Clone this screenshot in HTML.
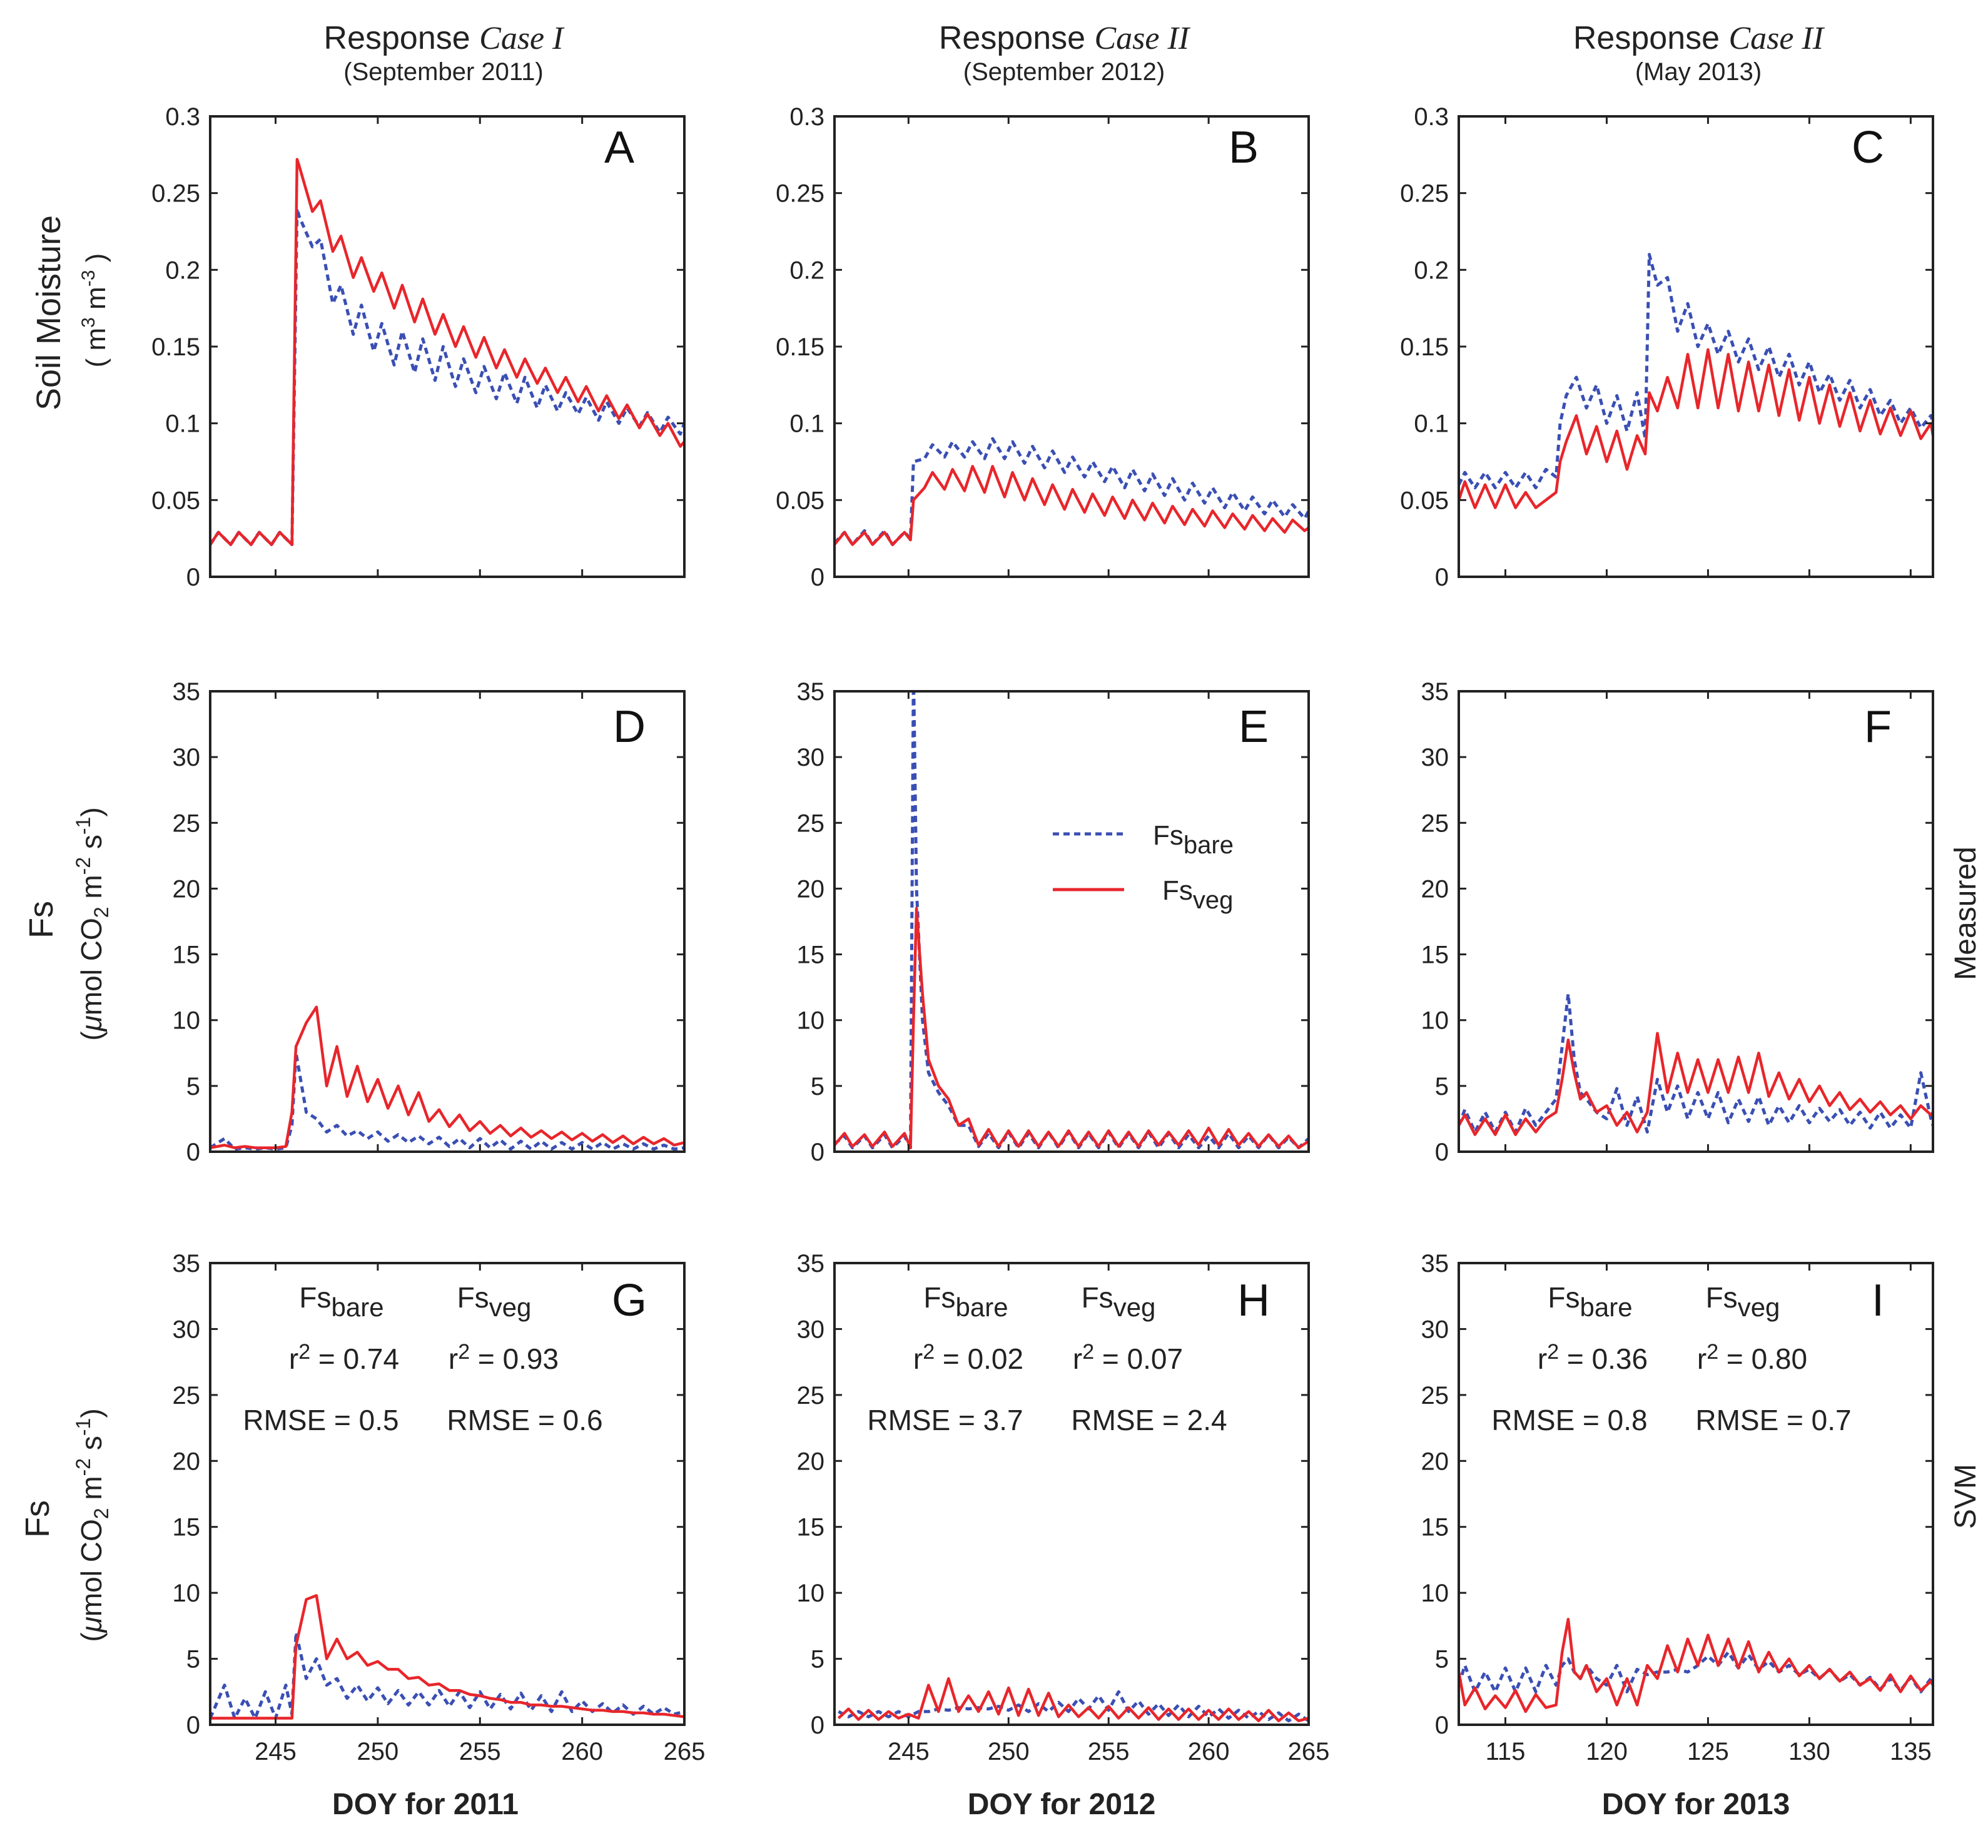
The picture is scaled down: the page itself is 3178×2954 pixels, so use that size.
<!DOCTYPE html>
<html><head><meta charset="utf-8"><style>
html,body{margin:0;padding:0;background:#fff;}
svg{display:block;font-family:"Liberation Sans",sans-serif;}
</style></head><body>
<svg id="fig" width="3178" height="2954" viewBox="0 0 3178 2954" xmlns="http://www.w3.org/2000/svg">
<rect width="3178" height="2954" fill="#fff"/>
<g fill="#222" text-anchor="middle">
<text x="709" y="78" font-size="52">Response <tspan font-family="Liberation Serif" font-style="italic">Case I</tspan></text>
<text x="709" y="128" font-size="40">(September 2011)</text>
<text x="1701" y="78" font-size="52">Response  <tspan font-family="Liberation Serif" font-style="italic">Case II</tspan></text>
<text x="1701" y="128" font-size="40">(September 2012)</text>
<text x="2715" y="78" font-size="52">Response <tspan font-family="Liberation Serif" font-style="italic">Case II</tspan></text>
<text x="2715" y="128" font-size="40">(May 2013)</text>
</g>
<g fill="#222" text-anchor="middle">
<text transform="translate(96,500) rotate(-90)" font-size="54">Soil Moisture</text>
<text transform="translate(168,496) rotate(-90)" font-size="44">( m<tspan dy="-17" font-size="30">3</tspan><tspan dy="17"> m</tspan><tspan dy="-17" font-size="30">-3</tspan><tspan dy="17"> )</tspan></text>
<text transform="translate(84,1470) rotate(-90)" font-size="54">Fs</text>
<text transform="translate(162,1477) rotate(-90)" font-size="46">(<tspan font-style="italic">μ</tspan>mol CO<tspan dy="11" font-size="32">2</tspan><tspan dy="-11"> m</tspan><tspan dy="-18" font-size="32">-2</tspan><tspan dy="18"> s</tspan><tspan dy="-18" font-size="32">-1</tspan><tspan dy="18">)</tspan></text>
<text transform="translate(78,2428) rotate(-90)" font-size="54">Fs</text>
<text transform="translate(162,2438) rotate(-90)" font-size="46">(<tspan font-style="italic">μ</tspan>mol CO<tspan dy="11" font-size="32">2</tspan><tspan dy="-11"> m</tspan><tspan dy="-18" font-size="32">-2</tspan><tspan dy="18"> s</tspan><tspan dy="-18" font-size="32">-1</tspan><tspan dy="18">)</tspan></text>
<text transform="translate(3158,1460) rotate(-90)" font-size="48">Measured</text>
<text transform="translate(3158,2392) rotate(-90)" font-size="48">SVM</text>
</g>
<g fill="#222" text-anchor="middle" font-weight="bold" font-size="48">
<text x="680" y="2900">DOY for 2011</text>
<text x="1697" y="2900">DOY for 2012</text>
<text x="2711" y="2900">DOY for 2013</text>
</g>
<g id="panels"></g>
<g fill="#222">
<line x1="1683" y1="1333" x2="1797" y2="1333" stroke="#3a4fb4" stroke-width="5" stroke-dasharray="10 7"/>
<text x="1843" y="1350" font-size="44">Fs<tspan dy="14" font-size="40">bare</tspan></text>
<line x1="1683" y1="1422" x2="1797" y2="1422" stroke="#e8262b" stroke-width="5"/>
<text x="1858" y="1438" font-size="44">Fs<tspan dy="14" font-size="40">veg</tspan></text>
</g>
</svg>
<script>
const aDays=[241.8,242.2,242.8,243.2,243.8,244.2,244.8,245.2,245.8,246.05,246.15,246.8,247.2,247.8,248.2,248.8,249.2,249.8,250.2,250.8,251.2,251.8,252.2,252.8,253.2,253.8,254.2,254.8,255.2,255.8,256.2,256.8,257.2,257.8,258.2,258.8,259.2,259.8,260.2,260.8,261.2,261.8,262.2,262.8,263.2,263.8,264.2,264.8,265];
const aVeg=[.021,.029,.021,.029,.021,.029,.021,.029,.021,.272,.268,.238,.245,.212,.222,.195,.208,.186,.198,.175,.19,.166,.181,.158,.171,.15,.163,.143,.156,.136,.148,.13,.142,.126,.136,.12,.13,.114,.124,.108,.118,.103,.112,.097,.106,.092,.1,.085,.088];
const aBare=[.021,.029,.021,.029,.021,.029,.021,.029,.021,.24,.235,.215,.22,.178,.19,.158,.177,.147,.165,.138,.16,.133,.155,.128,.15,.124,.142,.12,.137,.116,.133,.113,.13,.11,.125,.108,.12,.106,.117,.102,.114,.1,.11,.098,.107,.094,.104,.093,.1];
const bDays=[241.3,241.8,242.2,242.8,243.2,243.8,244.2,244.8,245.1,245.25,245.8,246.2,246.8,247.2,247.8,248.2,248.8,249.2,249.8,250.2,250.8,251.2,251.8,252.2,252.8,253.2,253.8,254.2,254.8,255.2,255.8,256.2,256.8,257.2,257.8,258.2,258.8,259.2,259.8,260.2,260.8,261.2,261.8,262.2,262.8,263.2,263.8,264.2,264.8,265];
const bBare=[.022,.029,.021,.03,.021,.03,.021,.029,.025,.075,.077,.086,.078,.088,.078,.088,.077,.09,.077,.088,.074,.085,.071,.082,.068,.078,.065,.075,.062,.072,.058,.07,.056,.067,.053,.064,.05,.061,.048,.058,.045,.055,.043,.052,.041,.05,.039,.047,.038,.043];
const bVeg=[.021,.029,.021,.029,.021,.029,.021,.029,.024,.05,.058,.068,.057,.07,.056,.072,.055,.072,.052,.068,.05,.064,.047,.06,.044,.057,.042,.054,.04,.052,.038,.05,.037,.048,.035,.046,.034,.044,.033,.043,.032,.041,.031,.04,.03,.038,.029,.037,.03,.032];
const cDays=[112.7,113,113.5,114,114.5,115,115.5,116,116.5,117,117.5,117.7,118,118.5,119,119.5,120,120.5,121,121.5,121.9,122.1,122.5,123,123.5,124,124.5,125,125.5,126,126.5,127,127.5,128,128.5,129,129.5,130,130.5,131,131.5,132,132.5,133,133.5,134,134.5,135,135.5,136,136.1];
const cBare=[.06,.068,.058,.068,.058,.068,.058,.068,.058,.07,.065,.1,.118,.13,.11,.125,.1,.118,.095,.12,.09,.21,.19,.195,.16,.178,.15,.165,.145,.16,.14,.155,.135,.15,.13,.145,.125,.14,.12,.132,.115,.128,.11,.122,.105,.115,.1,.11,.097,.105,.1];
const cVeg=[.05,.062,.045,.06,.045,.06,.045,.055,.045,.05,.055,.075,.088,.105,.08,.098,.075,.095,.07,.092,.08,.12,.108,.13,.11,.145,.11,.148,.11,.145,.108,.14,.108,.138,.105,.135,.102,.13,.1,.125,.098,.12,.095,.115,.093,.11,.092,.108,.09,.1,.092];
const dDays=[241.8,242.5,243,243.5,244,244.5,245,245.5,245.8,246,246.5,247,247.5,248,248.5,249,249.5,250,250.5,251,251.5,252,252.5,253,253.5,254,254.5,255,255.5,256,256.5,257,257.5,258,258.5,259,259.5,260,260.5,261,261.5,262,262.5,263,263.5,264,264.5,265];
const dVeg=[.3,.5,.3,.4,.3,.3,.3,.4,3,8,9.8,11,5,8,4.2,6.5,3.8,5.5,3.3,5,2.8,4.5,2.3,3.2,1.9,2.8,1.6,2.3,1.4,2,1.2,1.8,1.1,1.6,1,1.5,.9,1.4,.8,1.3,.7,1.2,.6,1.1,.6,1,.5,.7];
const dBare=[.3,1,.2,.3,.2,.3,.2,.3,2,7.5,3,2.5,1.5,2,1.2,1.6,1,1.5,.8,1.3,.7,1.2,.6,1.1,.4,1,.3,1,.3,.9,.2,.8,.2,.8,.2,.7,.2,.7,.2,.7,.2,.6,.2,.6,.2,.5,.2,.3];
const eDays=[241.3,241.8,242.2,242.8,243.2,243.8,244.2,244.8,245.1,245.25,245.4,245.7,246,246.5,247,247.5,248,248.5,249,249.5,250,250.5,251,251.5,252,252.5,253,253.5,254,254.5,255,255.5,256,256.5,257,257.5,258,258.5,259,259.5,260,260.5,261,261.5,262,262.5,263,263.5,264,264.5,265];
const eVeg=[.5,1.4,.4,1.3,.4,1.5,.4,1.4,.3,10,18.5,12,7,5,4,2,2.5,.5,1.7,.4,1.6,.4,1.6,.4,1.5,.4,1.6,.4,1.5,.4,1.6,.4,1.5,.4,1.6,.5,1.5,.5,1.6,.5,1.8,.5,1.7,.5,1.4,.4,1.3,.4,1.2,.3,.8];
const eBare=[.6,1.2,.3,1.2,.3,1.3,.3,1.2,.3,37,20,10,6,4.5,3.5,2,2,.4,1.4,.3,1.5,.3,1.4,.3,1.5,.3,1.5,.3,1.4,.3,1.5,.3,1.4,.3,1.5,.3,1.4,.3,1.3,.3,1.2,.3,1.4,.3,1.2,.3,1.3,.3,1.1,.3,1];
const fDays=[112.7,113,113.5,114,114.5,115,115.5,116,116.5,117,117.5,117.8,118.1,118.4,118.7,119,119.5,120,120.5,121,121.5,122,122.5,123,123.5,124,124.5,125,125.5,126,126.5,127,127.5,128,128.5,129,129.5,130,130.5,131,131.5,132,132.5,133,133.5,134,134.5,135,135.5,136,136.1];
const fVeg=[2,2.8,1.3,2.5,1.3,2.8,1.3,2.5,1.5,2.5,3,5.5,8.5,6,4,4.5,3,3.5,2,3,1.5,3,9,4.5,7.5,4.5,7,4.5,7,4.5,7.2,4.5,7.5,4.2,6,4,5.5,3.8,5,3.5,4.5,3.2,4,3,3.8,2.8,3.5,2.5,3.5,2.8,3];
const fBare=[2,3.2,1.5,3,1.5,3,1.5,3.3,2,3,4,8,12,7,4.5,4,3,2.5,4.8,2,4.2,1.5,5.5,3,5,2.5,4.5,2.5,4.5,2.2,4,2.3,4.2,2,3.5,2.2,3.5,2.2,3.3,2.3,3.2,2,3,1.8,3,1.8,2.8,1.8,6,2.5,2];
const gDays=dDays;
const gVeg=[.5,.5,.5,.5,.5,.5,.5,.5,.5,6,9.5,9.8,5,6.5,5,5.5,4.5,4.8,4.2,4.2,3.5,3.6,3,3.1,2.6,2.6,2.3,2.2,2,1.9,1.7,1.7,1.5,1.5,1.4,1.4,1.3,1.2,1.1,1.1,1,1,.9,.9,.8,.8,.7,.6];
const gBare=[.5,3,.5,2,.5,2.5,.5,3,.8,7,3.5,5,3,3.5,2,3,1.8,2.8,1.6,2.6,1.5,2.5,1.5,2.6,1.4,2.5,1.3,2.5,1.2,2.3,1.2,2.4,1.1,2.2,1,2.5,1,1.8,1,1.6,.9,1.5,.8,1.4,.8,1.3,.8,1];
const hDays=[241.5,242,242.5,243,243.5,244,244.5,245,245.5,246,246.5,247,247.5,248,248.5,249,249.5,250,250.5,251,251.5,252,252.5,253,253.5,254,254.5,255,255.5,256,256.5,257,257.5,258,258.5,259,259.5,260,260.5,261,261.5,262,262.5,263,263.5,264,264.5,265];
const hVeg=[.5,1.2,.4,1.1,.4,1,.5,.8,.5,3,1,3.5,1,2.2,1,2.5,.8,2.8,.7,2.7,.7,2.4,.6,1.5,.6,1.3,.5,1.4,.5,1.3,.5,1.3,.4,1.2,.4,1.2,.4,1.1,.4,1.2,.4,1,.3,1.1,.3,.9,.3,.5];
const hBare=[1,.6,1,.6,1,.6,1,.6,1,1,1.2,1.1,1.3,1.2,1.3,1.2,1.4,1.1,1.5,1,1.6,1,1.7,1,2,1.2,2.2,1.1,2.5,1,1.8,.8,1.6,.7,1.5,.6,1.4,.6,1.2,.5,1.1,.5,1,.4,.9,.3,.8,.3];
const iDays=fDays;
const iVeg=[4,1.5,2.8,1.2,2.2,1.3,2.6,1,2.3,1.3,1.5,5.5,8,4,3.5,4.5,2.5,3.5,1.5,3.5,1.5,4.5,3.5,6,4,6.5,4.5,6.8,4.5,6.5,4.3,6.3,4,5.5,4,5,3.7,4.5,3.5,4.2,3.3,4,3,3.5,2.6,3.8,2.5,3.7,2.6,3.3,3];
const iBare=[3,4.5,2.5,4,2.5,4.3,2.5,4.3,2.5,4.5,3,4.5,5,4,3.5,4.5,3.5,3,4.5,2.5,4.2,3.8,4,4,4.2,4,4.5,5.2,4.5,5.5,4.3,5.3,4.2,4.8,4,4.5,3.8,4.2,3.5,4.2,3.3,3.8,3,3.6,2.7,3.5,2.6,3.6,2.5,3.5,3];
const smTicks=[0,0.05,0.1,0.15,0.2,0.25,0.3];
const smTickLabels=["0","0.05","0.1","0.15","0.2","0.25","0.3"];
const fsTicks=[0,5,10,15,20,25,30,35];
const xTicks2011=[245,250,255,260,265];
const xTicks2013=[115,120,125,130,135];
const statsBare=[["0.74","0.5"],["0.02","3.7"],["0.36","0.8"]];
const statsVeg=[["0.93","0.6"],["0.07","2.4"],["0.80","0.7"]];

const NS="http://www.w3.org/2000/svg";
const colL=[336,1334,2332], colR=[1094,2092,3090];
const rowT=[186,1105,2019], rowB=[922,1841,2757];
const xDom=[[241.8,265],[241.3,265],[112.7,136.1]];
const panels=[
 {l:"A",c:0,r:0,d:aDays,b:aBare,v:aVeg},{l:"B",c:1,r:0,d:bDays,b:bBare,v:bVeg},{l:"C",c:2,r:0,d:cDays,b:cBare,v:cVeg},
 {l:"D",c:0,r:1,d:dDays,b:dBare,v:dVeg},{l:"E",c:1,r:1,d:eDays,b:eBare,v:eVeg},{l:"F",c:2,r:1,d:fDays,b:fBare,v:fVeg},
 {l:"G",c:0,r:2,d:gDays,b:gBare,v:gVeg},{l:"H",c:1,r:2,d:hDays,b:hBare,v:hVeg},{l:"I",c:2,r:2,d:iDays,b:iBare,v:iVeg}];
function mk(tag,attrs,parent){const e=document.createElementNS(NS,tag);for(const k in attrs)e.setAttribute(k,attrs[k]);parent.appendChild(e);return e;}
const root=document.getElementById("panels");
panels.forEach(p=>{
 const L=colL[p.c],R=colR[p.c],T=rowT[p.r],B=rowB[p.r];
 const yMax=p.r===0?0.3:35;
 const xs=v=>L+(v-xDom[p.c][0])/(xDom[p.c][1]-xDom[p.c][0])*(R-L);
 const ys=v=>B-v/yMax*(B-T);
 const g=mk("g",{},root);
 
 
 const cid="clip"+p.l;
 const cp=mk("clipPath",{id:cid},g);mk("rect",{x:L,y:T,width:R-L,height:B-T},cp);
 const lg=mk("g",{"clip-path":"url(#"+cid+")"},g);
 const path=(arr)=>p.d.map((d,i)=>(i?"L":"M")+xs(d).toFixed(1)+","+ys(arr[i]).toFixed(1)).join(" ");
 const bl=mk("path",{d:path(p.b),fill:"none",stroke:"#3a4fb4","stroke-width":5,"stroke-dasharray":"10 7","stroke-linejoin":"round"},lg);
 
 
 const rl=mk("path",{d:path(p.v),fill:"none",stroke:"#e8262b","stroke-width":4.5,"stroke-linejoin":"round"},lg);
 
 
 const yt=p.r===0?smTicks:fsTicks;
 yt.forEach((t,i)=>{
  const y=ys(t);
  mk("line",{x1:L,x2:L+12,y1:y,y2:y,stroke:"#222","stroke-width":3},g);
  mk("line",{x1:R-12,x2:R,y1:y,y2:y,stroke:"#222","stroke-width":3},g);
  const tx=mk("text",{x:L-16,y:y+14,"font-size":40,"text-anchor":"end",fill:"#222"},g);
  tx.textContent=p.r===0?smTickLabels[i]:String(t);
  
  
 });
 const xt=p.c===2?xTicks2013:xTicks2011;
 xt.forEach(t=>{
  const x=xs(t);
  mk("line",{x1:x,x2:x,y1:B,y2:B-12,stroke:"#222","stroke-width":3},g);
  mk("line",{x1:x,x2:x,y1:T,y2:T+12,stroke:"#222","stroke-width":3},g);
  if(p.r===2){
   const tx=mk("text",{x:x,y:B+56,"font-size":40,"text-anchor":"middle",fill:"#222"},g);
   tx.textContent=String(t);
   
   
  }
 });
 const fr=mk("rect",{x:L,y:T,width:R-L,height:B-T,fill:"none",stroke:"#222","stroke-width":4},g);
 
 
 const letterY=[260,1186,2103][p.r];
 const lt=mk("text",{x:L+(p.r===0?654:670),y:letterY,"font-size":72,"text-anchor":"middle",fill:"#111"},g);
 lt.textContent=p.l;
 
 
 if(p.r===2){
  const sb=statsBare[p.c],sv=statsVeg[p.c];
  const add=(x,y,html,name)=>{const t=mk("text",{x:L+x,y:y,"font-size":46,"text-anchor":"middle",fill:"#222"},g);t.innerHTML=html;
   
   };
  add(210,2090,'Fs<tspan dy="14" font-size="42">bare</tspan>','stat-header-bare');
  add(454,2090,'Fs<tspan dy="14" font-size="42">veg</tspan>','stat-header-veg');
  add(214,2188,'r<tspan dy="-16" font-size="34">2</tspan><tspan dy="16"> = '+sb[0]+'</tspan>','stat-r2-bare');
  add(469,2188,'r<tspan dy="-16" font-size="34">2</tspan><tspan dy="16"> = '+sv[0]+'</tspan>','stat-r2-veg');
  add(177,2286,'RMSE = '+sb[1],'stat-rmse-bare');
  add(503,2286,'RMSE = '+sv[1],'stat-rmse-veg');
 }
});
</script>
</body></html>
